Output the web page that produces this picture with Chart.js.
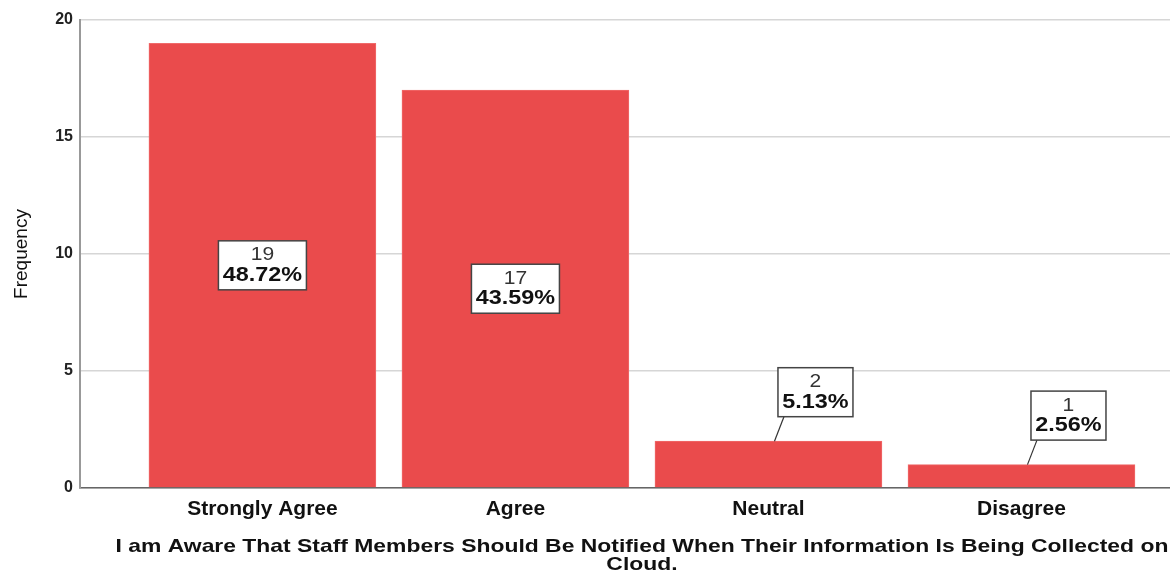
<!DOCTYPE html>
<html>
<head>
<meta charset="utf-8">
<script src="https://cdn.jsdelivr.net/npm/chart.js@4.4.0/dist/chart.umd.min.js"></script>
<style>
  html, body { margin: 0; padding: 0; background: #fff; }
  #wrap { width: 1170px; height: 574px; }
</style>
</head>
<body>
<div id="wrap"><canvas id="freqChart"></canvas></div>
<script>
const categories = ['Strongly Agree', 'Agree', 'Neutral', 'Disagree'];
const counts = [19, 17, 2, 1];
const percents = ['48.72%', '43.59%', '5.13%', '2.56%'];
const yTicks = [0, 5, 10, 15, 20];
const xTitle = ['I am Aware That Staff Members Should Be Notified When Their Information Is Being Collected on', 'Cloud.'];

const FONT = '"Liberation Sans", Arial, sans-serif';
const STRETCH = 1.17; // the original output is a bit wider than normal Arial

function wideText(ctx, text, x, y, sx) {
    ctx.save();
    ctx.translate(x, y);
    ctx.scale(sx || STRETCH, 1);
    ctx.fillText(text, 0, 0);
    ctx.restore();
}

// boxed count / percent labels, like the SPSS output
const boxLabels = {
    id: 'boxLabels',
    afterDatasetsDraw(chart) {
        const ctx = chart.ctx;
        const meta = chart.getDatasetMeta(0);
        meta.data.forEach((bar, i) => {
            ctx.save();
            ctx.font = 'bold 20px ' + FONT;
            const w = Math.round(ctx.measureText(percents[i]).width * STRETCH) + 9;
            const h = 49;
            let cx, cy;
            const inside = counts[i] >= 5;
            if (inside) {
                cx = bar.x;
                cy = (bar.y + bar.base) / 2;
            } else {
                cx = bar.x + 47;
                cy = bar.y - 49;
            }
            const left = cx - w / 2, top = cy - h / 2;
            if (!inside) {
                ctx.strokeStyle = '#333';
                ctx.lineWidth = 1.2;
                ctx.beginPath();
                ctx.moveTo(bar.x + 6, bar.y);
                ctx.lineTo(left + 6, top + h);
                ctx.stroke();
            }
            ctx.fillStyle = '#fff';
            ctx.fillRect(left, top, w, h);
            ctx.strokeStyle = '#444';
            ctx.lineWidth = 1.5;
            ctx.strokeRect(left, top, w, h);
            ctx.textAlign = 'center';
            ctx.textBaseline = 'middle';
            ctx.fillStyle = '#333';
            ctx.font = '18px ' + FONT;
            wideText(ctx, String(counts[i]), cx, cy - 10);
            ctx.fillStyle = '#111';
            ctx.font = 'bold 20px ' + FONT;
            wideText(ctx, percents[i], cx, cy + 10);
            ctx.restore();
        });
    },
    afterDraw(chart) {
        const ctx = chart.ctx;
        const xs = chart.scales.x;
        const mid = xs.getPixelForValue((categories.length - 1) / 2);
        ctx.save();
        ctx.fillStyle = '#111';
        ctx.font = 'bold 19px ' + FONT;
        ctx.textAlign = 'center';
        ctx.textBaseline = 'middle';
        wideText(ctx, xTitle[0], mid, 547, 1.205);
        wideText(ctx, xTitle[1], mid, 565, 1.205);
        ctx.restore();
    }
};

const ctx = document.getElementById('freqChart').getContext('2d');

new Chart(ctx, {
    type: 'bar',
    data: {
        datasets: [{
            label: 'Frequency',
            data: counts.map((v, i) => ({ x: i, y: v })),
            backgroundColor: '#EA4B4C',
            borderColor: '#F06A6A',
            borderWidth: 1,
            barThickness: 227
        }]
    },
    options: {
        responsive: true,
        maintainAspectRatio: false,
        animation: false,
        layout: { padding: { top: 20, right: 0, left: 0, bottom: 0 } },
        plugins: {
            legend: { display: false },
            tooltip: { enabled: false }
        },
        scales: {
            x: {
                type: 'linear',
                offset: false,
                min: -0.721,
                max: 3.587,
                grid: { display: false, drawTicks: false },
                border: { display: true, color: '#666', width: 1.5 },
                afterFit: (scale) => { scale.height = 86; },
                ticks: {
                    stepSize: 1,
                    includeBounds: false,
                    autoSkip: false,
                    maxRotation: 0,
                    padding: 9,
                    color: '#111',
                    font: { family: FONT, size: 21, weight: 'bold' },
                    callback: (v) => Number.isInteger(v) && categories[v] ? categories[v] : ''
                }
            },
            y: {
                min: 0,
                max: 20,
                afterBuildTicks: (scale) => { scale.ticks = yTicks.map(v => ({ value: v })); },
                afterFit: (scale) => { scale.width = 80; },
                grid: { color: '#d6d6d6', lineWidth: 1.5, drawTicks: false },
                border: { display: true, color: '#999', width: 2 },
                title: {
                    display: true,
                    text: 'Frequency',
                    color: '#111',
                    font: { family: FONT, size: 19 },
                    padding: { top: 10, bottom: 0 }
                },
                ticks: {
                    padding: 7,
                    color: '#222',
                    font: { family: FONT, size: 16, weight: 'bold' }
                }
            }
        }
    },
    plugins: [boxLabels]
});
</script>
</body>
</html>
